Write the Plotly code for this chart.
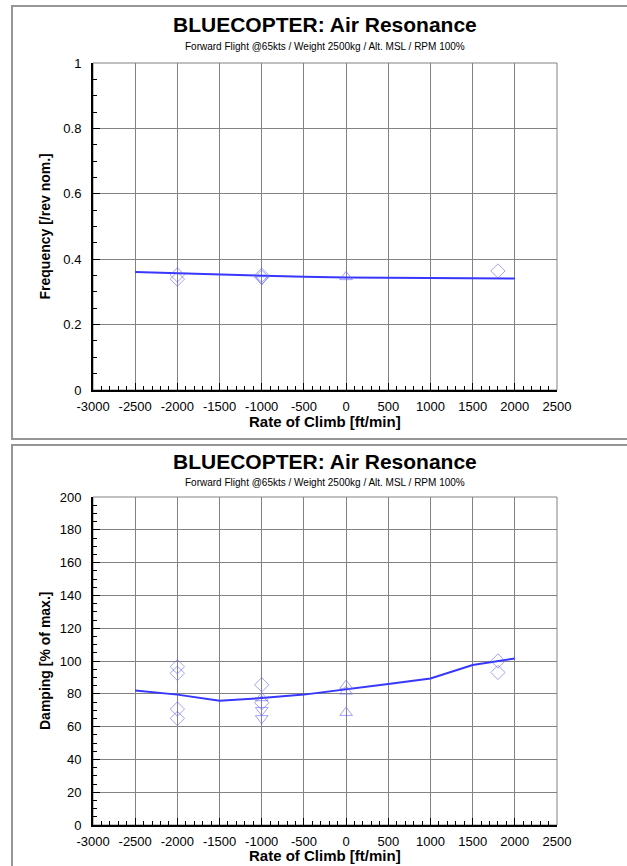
import plotly.graph_objects as go

W, H = 627, 866

# ---------------- data ----------------
rate_line = [-2500, -2000, -1500, -1000, -500, 0, 500, 1000, 1500, 2000]
freq_line = [0.361, 0.357, 0.353, 0.349, 0.346, 0.344, 0.343, 0.342, 0.341, 0.341]
damp_line = [82, 79.5, 75.8, 77.4, 79.5, 82.6, 86, 89.3, 97.6, 101.5]

freq_diamond_x = [-2000, -2000, -1000, -1000, 1800]
freq_diamond_y = [0.352, 0.339, 0.351, 0.345, 0.364]
freq_triup_x = [0]
freq_triup_y = [0.346]
freq_tridown_x = [-1000]
freq_tridown_y = [0.338]

damp_diamond_x = [-2000, -2000, -2000, -2000, -1000, -1000, 1800, 1800]
damp_diamond_y = [96.5, 92.5, 70.7, 65, 85.5, 74.5, 100, 93]
damp_triup_x = [-1000, 0, 0, 0]
damp_triup_y = [77.5, 85, 81.5, 68.5]
damp_tridown_x = [-1000, -1000]
damp_tridown_y = [70, 65]

x_tick_vals = [-3000, -2500, -2000, -1500, -1000, -500, 0, 500, 1000, 1500, 2000, 2500]
x_tick_text = ["-3000", "-2500", "-2000", "-1500", "-1000", "-500", "0", "500", "1000", "1500", "2000", "2500"]
freq_tick_vals = [0, 0.2, 0.4, 0.6, 0.8, 1]
freq_tick_text = ["0", "0.2", "0.4", "0.6", "0.8", "1"]
damp_tick_vals = [0, 20, 40, 60, 80, 100, 120, 140, 160, 180, 200]
damp_tick_text = ["0", "20", "40", "60", "80", "100", "120", "140", "160", "180", "200"]

title_text = "BLUECOPTER: Air Resonance"
subtitle_text = "Forward Flight @65kts / Weight 2500kg / Alt. MSL / RPM 100%"
x_title = "Rate of Climb [ft/min]"
y_titles = ["Frequency [/rev nom.]", "Damping [% of max.]"]

# ---------------- styles ----------------
FONT = "Arial, 'Liberation Sans', sans-serif"
LINE_COLOR = "rgb(55,55,255)"
MARK_COLOR = "rgba(100,100,255,0.6)"
GRID = "rgb(130,130,130)"

def px_x(p):
    return p / W

def px_y(p):
    return 1 - p / H

xdom = [px_x(93), px_x(557)]
ydom_top = [px_y(390), px_y(63)]
ydom_bot = [px_y(825), px_y(497)]

fig = go.Figure()

def add_panel(xa, ya, lx, ly, dx, dy, ux, uy, vx, vy):
    fig.add_trace(go.Scatter(x=lx, y=ly, mode="lines", xaxis=xa, yaxis=ya,
                             line=dict(color=LINE_COLOR, width=2), showlegend=False))
    for sx, sy, sym in [(dx, dy, "diamond-open"), (ux, uy, "triangle-up-open"),
                        (vx, vy, "triangle-down-open")]:
        fig.add_trace(go.Scatter(x=sx, y=sy, mode="markers", xaxis=xa, yaxis=ya,
                                 marker=dict(symbol=sym, size=11, color=MARK_COLOR,
                                             line=dict(color=MARK_COLOR, width=1)),
                                 showlegend=False))

add_panel("x", "y", rate_line, freq_line, freq_diamond_x, freq_diamond_y,
          freq_triup_x, freq_triup_y, freq_tridown_x, freq_tridown_y)
add_panel("x2", "y2", rate_line, damp_line, damp_diamond_x, damp_diamond_y,
          damp_triup_x, damp_triup_y, damp_tridown_x, damp_tridown_y)

xaxis_common = dict(
    domain=xdom, range=[-3000, 2500], automargin=False,
    tickmode="array", tickvals=x_tick_vals, ticktext=x_tick_text,
    showgrid=True, gridcolor=GRID, gridwidth=1, zeroline=False,
    showline=True, linecolor="black", linewidth=2,
    ticks="inside", ticklen=7, tickcolor="black", tickwidth=1,
    ticklabelstandoff=3,
    minor=dict(ticks="inside", ticklen=4, tickmode="linear", tick0=-3000, dtick=100,
               tickcolor="black", showgrid=False),
    tickfont=dict(family=FONT, size=13, color="black"),
)

yaxis_common = dict(
    automargin=False, tickmode="array",
    showgrid=True, gridcolor=GRID, gridwidth=1, zeroline=False,
    showline=True, linecolor="black", linewidth=2,
    ticks="inside", ticklen=7, tickcolor="black", tickwidth=1,
    ticklabelstandoff=7,
    tickfont=dict(family=FONT, size=13, color="black"),
)

fig.update_layout(
    width=W, height=H, margin=dict(l=0, r=0, t=0, b=0, autoexpand=False),
    paper_bgcolor="white", plot_bgcolor="white",
    xaxis=dict(xaxis_common, anchor="y"),
    xaxis2=dict(xaxis_common, anchor="y2"),
    yaxis=dict(yaxis_common, domain=ydom_top, range=[0, 1], anchor="x",
               tickvals=freq_tick_vals, ticktext=freq_tick_text,
               minor=dict(ticks="inside", ticklen=4, tickmode="linear", tick0=0, dtick=0.05,
                          tickcolor="black", showgrid=False)),
    yaxis2=dict(yaxis_common, domain=ydom_bot, range=[0, 200], anchor="x2",
                tickvals=damp_tick_vals, ticktext=damp_tick_text,
                minor=dict(ticks="inside", ticklen=4, tickmode="linear", tick0=0, dtick=5,
                           tickcolor="black", showgrid=False)),
)

shapes = [
    # panel borders
    dict(type="rect", xref="paper", yref="paper", x0=px_x(12), x1=1.05, y0=px_y(439), y1=px_y(6),
         line=dict(color="rgb(150,150,150)", width=2), layer="below"),
    dict(type="rect", xref="paper", yref="paper", x0=px_x(12), x1=1.05, y0=-0.05, y1=px_y(445),
         line=dict(color="rgb(150,150,150)", width=2), layer="below"),
    # plot frame (top / right edges as grid-coloured)
    dict(type="rect", xref="x domain", yref="y domain", x0=0, x1=1, y0=0, y1=1,
         line=dict(color=GRID, width=1), layer="below"),
    dict(type="rect", xref="x2 domain", yref="y2 domain", x0=0, x1=1, y0=0, y1=1,
         line=dict(color=GRID, width=1), layer="below"),
]
fig.update_layout(shapes=shapes)

annotations = []
xc = (xdom[0] + xdom[1]) / 2
for ty, sy, xy, yy, ytxt in [(25, 47, 421, 226.5, y_titles[0]), (461, 482, 855, 661, y_titles[1])]:
    annotations.append(dict(text="<b>" + title_text + "</b>", x=xc, y=px_y(ty), xref="paper", yref="paper",
                            showarrow=False, xanchor="center", yanchor="middle",
                            font=dict(family=FONT, size=21, color="black")))
    annotations.append(dict(text=subtitle_text, x=xc, y=px_y(sy), xref="paper", yref="paper",
                            showarrow=False, xanchor="center", yanchor="middle",
                            font=dict(family=FONT, size=10, color="black")))
    annotations.append(dict(text="<b>" + x_title + "</b>", x=xc, y=px_y(xy), xref="paper", yref="paper",
                            showarrow=False, xanchor="center", yanchor="middle",
                            font=dict(family=FONT, size=15, color="black")))
    annotations.append(dict(text="<b>" + ytxt + "</b>", x=px_x(45), y=px_y(yy), xref="paper", yref="paper",
                            showarrow=False, xanchor="center", yanchor="middle", textangle=-90,
                            font=dict(family=FONT, size=14, color="black")))
fig.update_layout(annotations=annotations)

fig.write_html("out.html", config={"displayModeBar": False},
               post_script="document.body.style.margin='0px';document.body.style.overflow='hidden';")
